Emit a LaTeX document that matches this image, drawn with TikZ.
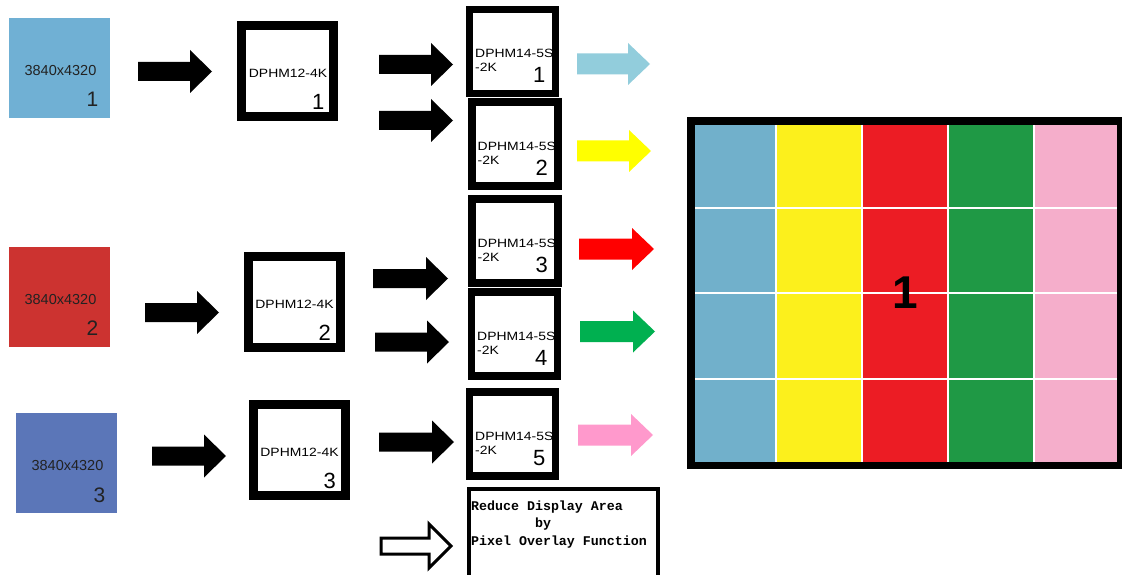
\documentclass[tikz,border=0pt]{standalone}
\usepackage{fontspec}
\setmainfont{Liberation Sans}
\newfontfamily\monofont{Liberation Mono}
\usetikzlibrary{calc}
\definecolor{srcA}{HTML}{70B0D4}
\definecolor{srcB}{HTML}{CC3330}
\definecolor{srcC}{HTML}{5B76B8}
\definecolor{arA}{HTML}{92CDDC}
\definecolor{arB}{HTML}{FFFF00}
\definecolor{arC}{HTML}{FF0000}
\definecolor{arD}{HTML}{00B050}
\definecolor{arE}{HTML}{FF99CC}
\definecolor{cA}{HTML}{71B0CB}
\definecolor{cB}{HTML}{FCF01C}
\definecolor{cC}{HTML}{EC1C24}
\definecolor{cD}{HTML}{1F9945}
\definecolor{cE}{HTML}{F5AECB}
\definecolor{txt}{HTML}{222222}
% #1 style, #2 x0, #3 yc, #4 x1, #5 shaft half, #6 head half
\newcommand\blkarrow[6][]{%
  \path[#1] (#2,#3-#5) -- (#4-22,#3-#5) -- (#4-22,#3-#6) -- (#4,#3)
    -- (#4-22,#3+#6) -- (#4-22,#3+#5) -- (#2,#3+#5) -- cycle;}
\newcommand\wide[1]{\scalebox{1.16}[1]{#1}}
\tikzset{
  src/.style={fill=#1, minimum width=101pt, minimum height=100pt, inner sep=0pt},
  dphmA/.style={draw, line width=9pt, fill=white, minimum width=92pt, minimum height=91pt, inner sep=0pt},
  dphmB/.style={draw, line width=7.5pt, fill=white, minimum width=86pt, minimum height=84pt, inner sep=0pt},
  srctext/.style={anchor=base, text=txt, inner sep=0pt, font=\fontsize{14.5}{16}\selectfont},
  srcnum/.style={anchor=base east, text=txt, inner sep=0pt, font=\fontsize{21}{24}\selectfont},
  dtext/.style={inner sep=0pt, font=\fontsize{12}{14}\selectfont},
  dnum/.style={anchor=base east, inner sep=0pt, font=\fontsize{22}{24}\selectfont},
  monotext/.style={anchor=base west, inner sep=0pt, font=\monofont\bfseries\fontsize{13.3}{15}\selectfont},
}
% source square: name, cx, cy, colour, number
\newcommand\srcsq[5]{%
  \node[src=#4] (#1) at (#2,#3) {};
  \node[srctext] (#1t) at ($(#1)+(1,7.5)$) {3840x4320};
  \node[srcnum] (#1n) at ($(#1)+(39,39)$) {#5};}
\newcommand\dphmbig[4]{%
  \node[dphmA] (#1) at (#2,#3) {};
  \node[dtext, anchor=base] (#1t) at ($(#1)+(0.5,6.5)$) {\wide{DPHM12-4K}};
  \node[dnum] (#1n) at ($(#1)+(37,39)$) {#4};}
\newcommand\dphmsmall[4]{%
  \node[dphmB] (#1) at (#2,#3) {};
  \node[dtext, anchor=base west] (#1t) at ($(#1)+(-37.5,6)$) {\wide{DPHM14-5S}};
  \node[dtext, anchor=base west] (#1u) at ($(#1)+(-37.5,20.5)$) {\wide{-2K}};
  \node[dnum] (#1n) at ($(#1)+(33,31.5)$) {#4};}
\begin{document}
\begin{tikzpicture}[x=1pt,y=-1pt]
\useasboundingbox (0,0) rectangle (1122,575);
\clip (0,0) rectangle (1122,575);
\fill[white] (0,0) rectangle (1122,575);

% sources
\srcsq{s1}{59.5}{68}{srcA}{1}
\srcsq{s2}{59.5}{296.5}{srcB}{2}
\srcsq{s3}{66.5}{463}{srcC}{3}

% DPHM12-4K
\dphmbig{b1}{287.5}{71}{1}
\dphmbig{b2}{294}{301.5}{2}
\dphmbig{b3}{299}{449.5}{3}

% DPHM14-5S-2K
\dphmsmall{d1}{512.5}{51.5}{1}
\dphmsmall{d2}{515}{144}{2}
\dphmsmall{d3}{515}{241}{3}
\dphmsmall{d4}{514.5}{334}{4}
\dphmsmall{d5}{512.5}{434}{5}

% black arrows
\blkarrow[fill=black]{138}{71.5}{212}{9.5}{21.5}
\blkarrow[fill=black]{145}{312.5}{219}{9.5}{21.5}
\blkarrow[fill=black]{152}{456}{226}{9.5}{21.5}
\blkarrow[fill=black]{379}{64.5}{453}{9.5}{21.5}
\blkarrow[fill=black]{379}{120.5}{453}{9.5}{21.5}
\blkarrow[fill=black]{373}{278.5}{448}{9.5}{21.5}
\blkarrow[fill=black]{375}{342}{449}{9.5}{21.5}
\blkarrow[fill=black]{379}{442}{454}{9.5}{21.5}

% coloured arrows
\blkarrow[fill=arA]{577}{64}{650}{10.5}{21}
\blkarrow[fill=arB]{577}{151}{651}{10.5}{21}
\blkarrow[fill=arC]{579}{249}{654}{10.5}{21}
\blkarrow[fill=arD]{580}{331.5}{655}{10.5}{21}
\blkarrow[fill=arE]{578}{435}{653}{10.5}{21}

% hollow arrow
\blkarrow[draw=black, fill=white, line width=3pt, line join=miter]{381}{546}{451}{8}{22}

% note box
\node[draw, line width=4pt, fill=white, minimum width=189pt, minimum height=100pt, inner sep=0pt, anchor=north west] (note) at (467,487) {};
\node[monotext] (l1) at (471,510) {Reduce Display Area};
\node[monotext] (l2) at (535,527) {by};
\node[monotext] (l3) at (471,545) {Pixel Overlay Function};

% display grid
\fill[black] (687,117) rectangle (1130,469);
\fill[cA] (695,125) rectangle (776,462);
\fill[cB] (776,125) rectangle (862,462);
\fill[cC] (862,125) rectangle (948,462);
\fill[cD] (948,125) rectangle (1034,462);
\fill[cE] (1034,125) rectangle (1117,462);
\draw[white, line width=1.3pt] (776,125) -- (776,462) (862,125) -- (862,462)
  (948,125) -- (948,462) (1034,125) -- (1034,462)
  (695,208) -- (1117,208) (695,293) -- (1117,293) (695,379) -- (1117,379);
\node[font=\bfseries\fontsize{46}{50}\selectfont, inner sep=0pt] (big) at (905,293) {1};
\end{tikzpicture}
\end{document}
